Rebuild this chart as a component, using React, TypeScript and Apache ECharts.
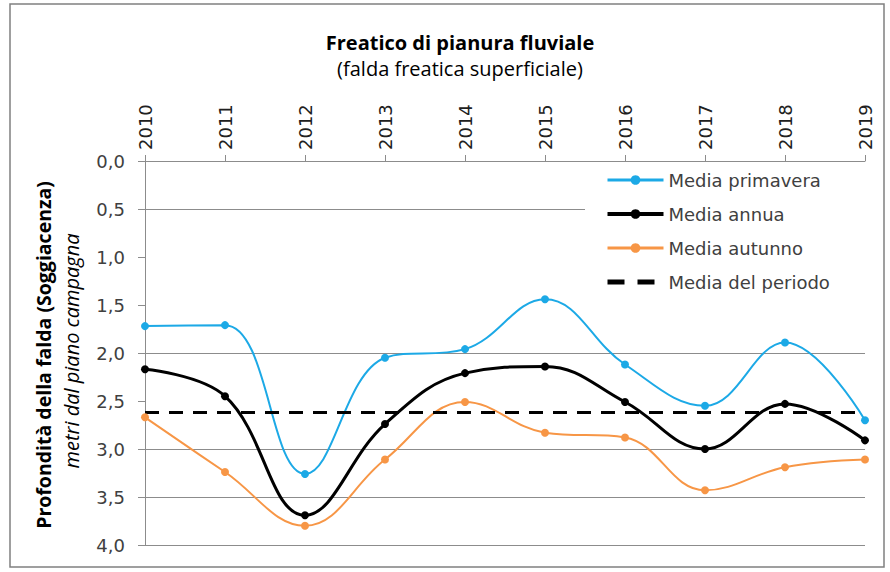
import React, { useEffect, useRef } from "react";
import * as echarts from "echarts";

const years = ["2010", "2011", "2012", "2013", "2014", "2015", "2016", "2017", "2018", "2019"];
const primavera = [1.72, 1.71, 3.26, 2.05, 1.96, 1.44, 2.12, 2.55, 1.89, 2.7];
const annua = [2.17, 2.45, 3.69, 2.74, 2.21, 2.14, 2.51, 3.0, 2.53, 2.91];
const autunno = [2.67, 3.24, 3.8, 3.11, 2.51, 2.83, 2.88, 3.43, 3.19, 3.11];
const periodo = [2.62, 2.62, 2.62, 2.62, 2.62, 2.62, 2.62, 2.62, 2.62, 2.62];
const gridValues = [0, 0.5, 2, 3, 3.5, 4];

const seriesNames = ["Media primavera", "Media annua", "Media autunno", "Media del periodo"];

export default function App() {
  const ref = useRef<HTMLDivElement>(null);
  useEffect(() => {
    if (!ref.current) return;
    const chart = echarts.init(ref.current, null, { renderer: "svg" });
    const txt = "#404040";
    chart.setOption({
      animation: false,
      backgroundColor: "#ffffff",
      title: {
        text: "Freatico di pianura fluviale",
        subtext: "(falda freatica superficiale)",
        left: 455,
        top: 27,
        textAlign: "center",
        itemGap: 6,
        textStyle: { fontFamily: "Open Sans", fontWeight: "bold", fontSize: 20, color: "#000" },
        subtextStyle: { fontFamily: "Open Sans", fontSize: 20, color: "#000" },
      },
      legend: {
        data: [
          { name: seriesNames[0], lineStyle: { width: 3 } },
          { name: seriesNames[1], lineStyle: { width: 4 } },
          { name: seriesNames[2], lineStyle: { width: 3 } },
          { name: seriesNames[3], itemStyle: { opacity: 0 }, lineStyle: { width: 5, type: [17, 13] } },
        ],
        orient: "vertical",
        left: 585,
        top: 165,
        padding: [6, 36, 10, 20],
        backgroundColor: "#ffffff",
        itemWidth: 56,
        itemHeight: 12,
        itemGap: 16,
        z: 10,
        textStyle: { fontFamily: "DejaVu Sans", fontSize: 18, color: txt },
      },
      grid: { left: 145, right: 25, top: 161, bottom: 27, containLabel: false },
      xAxis: {
        type: "category",
        data: years,
        position: "top",
        boundaryGap: false,
        axisLine: { show: true, lineStyle: { color: "#8c8c8c", width: 1 } },
        axisTick: { show: true, inside: false, length: 6, lineStyle: { color: "#8c8c8c" } },
        axisLabel: {
          rotate: 90,
          margin: 11,
          fontFamily: "DejaVu Sans",
          fontSize: 18,
          color: "#202020",
        },
        splitLine: { show: false },
      },
      yAxis: {
        type: "value",
        inverse: true,
        min: 0,
        max: 4,
        interval: 0.5,
        axisLine: { show: true, lineStyle: { color: "#8c8c8c", width: 1 } },
        axisTick: { show: true, inside: false, length: 7, lineStyle: { color: "#8c8c8c" } },
        axisLabel: {
          margin: 20,
          fontFamily: "DejaVu Sans",
          fontSize: 18,
          color: txt,
          formatter: (v: number) => v.toFixed(1).replace(".", ","),
        },
        splitLine: { show: false },
      },
      graphic: [
        {
          type: "rect",
          shape: { x: 10, y: 4, width: 874, height: 563 },
          style: { fill: "none", stroke: "#808080", lineWidth: 1.5 },
          silent: true,
        },
        {
          type: "text",
          x: 43,
          y: 355,
          rotation: Math.PI / 2,
          style: {
            text: "Profondità della falda (Soggiacenza)",
            fontFamily: "Open Sans",
            fontWeight: "bold",
            fontSize: 19.5,
            fill: "#000",
            textAlign: "center",
            textVerticalAlign: "middle",
          },
        },
        {
          type: "text",
          x: 71,
          y: 351,
          rotation: Math.PI / 2,
          style: {
            text: "metri dal piano campagna",
            fontFamily: "Open Sans",
            fontStyle: "italic",
            fontSize: 20,
            fill: "#000",
            textAlign: "center",
            textVerticalAlign: "middle",
          },
        },
      ],
      series: [
        {
          name: "grid",
          type: "line",
          data: [],
          silent: true,
          z: 1,
          markLine: {
            silent: true,
            z: 1,
            symbol: "none",
            label: { show: false },
            lineStyle: { color: "#8c8c8c", width: 1, type: "solid" },
            data: gridValues.map((v) => ({ yAxis: v })),
          },
        },
        {
          name: seriesNames[0],
          type: "line",
          data: primavera,
          smooth: 0.4,
          symbol: "circle",
          symbolSize: 8,
          lineStyle: { color: "#1CA9E6", width: 2 },
          itemStyle: { color: "#1CA9E6" },
          z: 3,
        },
        {
          name: seriesNames[1],
          type: "line",
          data: annua,
          smooth: 0.4,
          symbol: "circle",
          symbolSize: 8,
          lineStyle: { color: "#000000", width: 3 },
          itemStyle: { color: "#000000" },
          z: 3,
        },
        {
          name: seriesNames[2],
          type: "line",
          data: autunno,
          smooth: 0.4,
          symbol: "circle",
          symbolSize: 8,
          lineStyle: { color: "#F79646", width: 2 },
          itemStyle: { color: "#F79646" },
          z: 3,
        },
        {
          name: seriesNames[3],
          type: "line",
          data: periodo,
          symbol: "none",
          lineStyle: { color: "#000000", width: 3, type: [14, 10] },
          itemStyle: { color: "#000000" },
          z: 3,
        },
      ],
    });
    return () => chart.dispose();
  }, []);
  return (
    <div
      ref={ref}
      style={{ position: "absolute", left: 0, top: 0, width: 890, height: 572, background: "#fff" }}
    />
  );
}
